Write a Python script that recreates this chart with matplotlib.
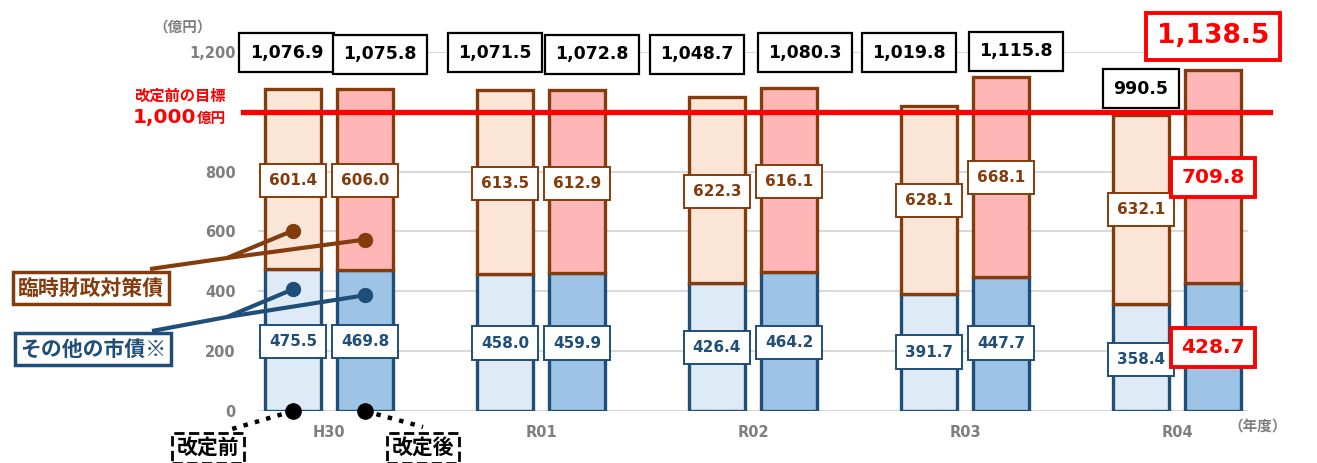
import matplotlib
matplotlib.use("Agg")
import matplotlib.pyplot as plt
from matplotlib.lines import Line2D
import numpy as np

# ---------------- data ----------------
years = ["H30", "R01", "R02", "R03", "R04"]
before_other = [475.5, 458.0, 426.4, 391.7, 358.4]
before_temp = [601.4, 613.5, 622.3, 628.1, 632.1]
before_total = [1076.9, 1071.5, 1048.7, 1019.8, 990.5]
after_other = [469.8, 459.9, 464.2, 447.7, 428.7]
after_temp = [606.0, 612.9, 616.1, 668.1, 709.8]
after_total = [1075.8, 1072.8, 1080.3, 1115.8, 1138.5]
target = 1000
yticks = [0, 200, 400, 600, 800, 1000, 1200]
ytick_labels = ["0", "200", "400", "600", "800", "", "1,200"]

# ---------------- layout (label centre heights / offsets) ----------------
lab_bt = [770, 760, 733, 703, 673]
lab_at = [770, 760, 767, 780, 780]
lab_bo = [233, 227, 213, 197, 173]
lab_ao = [233, 227, 230, 227, 213]
lab_btot = [1197, 1197, 1193, 1197, 1077]
lab_atot = [1193, 1193, 1197, 1203, 1253]
dx_btot = [-0.03, -0.047, -0.094, -0.094, 0.0]
dx_atot = [0.07, 0.07, 0.075, 0.07, 0.0]

W, H = 1317, 463
fig = plt.figure(figsize=(W / 100, H / 100), dpi=100)
ax = fig.add_axes([258 / W, 1 - 411 / H, 990 / W, 359 / H])

BROWN = "#843C0C"
NAVY = "#1F4E79"
C_BO = "#DEEBF7"
C_AO = "#9DC3E6"
C_BT = "#FBE5D6"
C_AT = "#FFB6B6"
GREY = "#7F7F7F"
RED = "#FF0000"
NUM = ["DejaVu Sans", "Noto Sans CJK JP"]
JP = ["Noto Sans CJK JP", "DejaVu Sans"]

x = np.arange(len(years))
off, bw = 0.17, 0.26
xb, xa = x - off, x + off

ax.set_xlim(-0.335, 4.335)
ax.set_ylim(0, 1200)
for s in ax.spines.values():
    s.set_visible(False)
ax.set_yticks(yticks)
ax.set_yticklabels(ytick_labels)
ax.grid(axis="y", color="#D9D9D9", lw=1.5, zorder=0)
ax.set_axisbelow(True)
ax.tick_params(axis="y", length=0, pad=16, labelsize=10.5, labelcolor=GREY)
ax.tick_params(axis="x", length=0, pad=10, labelsize=10.5, labelcolor=GREY)
ax.set_xticks(x)
ax.set_xticklabels(years)
for t in ax.get_yticklabels() + ax.get_xticklabels():
    t.set_fontweight("bold")
    t.set_family(NUM)

lw = 2.4
ax.bar(xb, before_other, bw, color=C_BO, edgecolor=NAVY, lw=lw, zorder=2)
ax.bar(xb, before_temp, bw, bottom=before_other, color=C_BT, edgecolor=BROWN, lw=lw, zorder=2)
ax.bar(xa, after_other, bw, color=C_AO, edgecolor=NAVY, lw=lw, zorder=2)
ax.bar(xa, after_temp, bw, bottom=after_other, color=C_AT, edgecolor=BROWN, lw=lw, zorder=2)

# target line
ax.plot([-0.015, 1.022], [target, target], color=RED, lw=3.8, zorder=3,
        transform=ax.get_yaxis_transform(), clip_on=False)


def box(xp, yp, txt, color, size, ec=None, pad=0.6, lwb=1.4):
    ax.text(xp, yp, txt, ha="center", va="center", fontsize=size, color=color,
            fontweight="bold", family=NUM, zorder=5, clip_on=False,
            bbox=dict(boxstyle=f"square,pad={pad}", fc="white",
                      ec=ec if ec else color, lw=lwb))


n = len(years)
for i in range(n):
    last = i == n - 1
    box(xb[i], lab_bt[i], f"{before_temp[i]:.1f}", BROWN, 11)
    box(xb[i], lab_bo[i], f"{before_other[i]:.1f}", NAVY, 11)
    box(xb[i] + dx_btot[i], lab_btot[i], f"{before_total[i]:,.1f}", "black", 12.5,
        pad=0.6, lwb=1.6)
    if last:
        box(xa[i], lab_at[i], f"{after_temp[i]:.1f}", RED, 14.5, pad=0.5, lwb=2.8)
        box(xa[i], lab_ao[i], f"{after_other[i]:.1f}", RED, 14.5, pad=0.5, lwb=2.8)
        box(xa[i] + dx_atot[i], lab_atot[i], f"{after_total[i]:,.1f}", RED, 19,
            pad=0.4, lwb=2.8)
    else:
        box(xa[i], lab_at[i], f"{after_temp[i]:.1f}", BROWN, 11)
        box(xa[i], lab_ao[i], f"{after_other[i]:.1f}", NAVY, 11)
        box(xa[i] + dx_atot[i], lab_atot[i], f"{after_total[i]:,.1f}", "black", 12.5,
            pad=0.6, lwb=1.6)

# ---------------- annotations ----------------
inv = fig.transFigure.inverted()


def fpx(px, py):
    return (px / W, 1 - py / H)


def fdata(xd, yd):
    return tuple(inv.transform(ax.transData.transform((xd, yd))))


def fline(pts, color, lw_, ls="-"):
    xs = [p[0] for p in pts]
    ys = [p[1] for p in pts]
    fig.add_artist(Line2D(xs, ys, transform=fig.transFigure, color=color, lw=lw_,
                          ls=ls, zorder=6, solid_capstyle="butt"))


# brown legend leader
d1, d2 = fdata(xb[0], 603), fdata(xa[0], 573)
fline([fpx(150, 269), fpx(227, 258), d1], BROWN, 3)
fline([fpx(227, 258), d2], BROWN, 3)
fig.add_artist(Line2D([d1[0], d2[0]], [d1[1], d2[1]], transform=fig.transFigure,
                      ls="none", marker="o", ms=10, color=BROWN, zorder=7))
# navy legend leader
e1, e2 = fdata(xb[0], 407), fdata(xa[0], 387)
fline([fpx(152, 331), fpx(227, 317), e1], NAVY, 3)
fline([fpx(227, 317), e2], NAVY, 3)
fig.add_artist(Line2D([e1[0], e2[0]], [e1[1], e2[1]], transform=fig.transFigure,
                      ls="none", marker="o", ms=10, color=NAVY, zorder=7))

fig.text(*fpx(91, 288), "臨時財政対策債", ha="center", va="center", fontsize=15,
         fontweight="bold", color=BROWN, family=JP,
         bbox=dict(boxstyle="square,pad=0.25", fc="white", ec=BROWN, lw=2.5))
fig.text(*fpx(93, 349), "その他の市債※", ha="center", va="center", fontsize=15,
         fontweight="bold", color=NAVY, family=JP,
         bbox=dict(boxstyle="square,pad=0.25", fc="white", ec=NAVY, lw=2.5))

# before / after markers
b0, a0 = fdata(xb[0], 0), fdata(xa[0], 0)
fline([b0, fpx(232, 429)], "black", 3.2, ":")
fline([a0, fpx(423, 427)], "black", 3.2, ":")
fig.add_artist(Line2D([b0[0], a0[0]], [b0[1], a0[1]], transform=fig.transFigure,
                      ls="none", marker="o", ms=11, color="black", zorder=7))
fig.text(*fpx(208, 448), "改定前", ha="center", va="center", fontsize=15,
         fontweight="bold", color="black", family=JP,
         bbox=dict(boxstyle="square,pad=0.22", fc="white", ec="black", lw=2, ls="--"))
fig.text(*fpx(423, 448), "改定後", ha="center", va="center", fontsize=15,
         fontweight="bold", color="black", family=JP,
         bbox=dict(boxstyle="square,pad=0.22", fc="white", ec="black", lw=2, ls="--"))

# target text
fig.text(*fpx(226, 96), "改定前の目標", ha="right", va="center", fontsize=11,
         fontweight="bold", color=RED, family=JP)
fig.text(226 / W, 1 - 118 / H, "億円", ha="right", va="center", fontsize=10.5,
         fontweight="bold", color=RED, family=JP)
fig.text(196 / W, 1 - 117 / H, "1,000", ha="right", va="center", fontsize=14.5,
         fontweight="bold", color=RED, family=NUM)

# units
fig.text(*fpx(183, 27), "（億円）", ha="center", va="center", fontsize=10.5,
         fontweight="bold", color=GREY, family=JP)
fig.text(*fpx(1258, 426), "（年度）", ha="center", va="center", fontsize=10.5,
         fontweight="bold", color=GREY, family=JP)

fig.savefig("out.png", dpi=100)
